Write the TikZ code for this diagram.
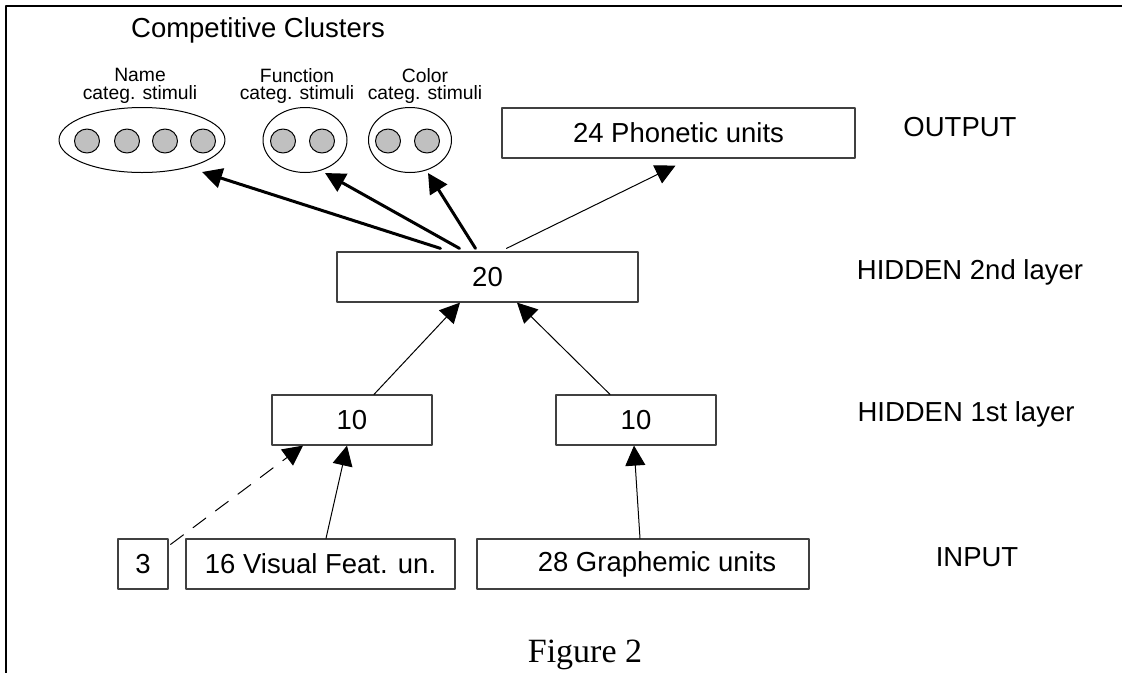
\documentclass[tikz,border=0pt]{standalone}
\usepackage{fontspec}
\setmainfont{Liberation Sans}
\newfontfamily\figfont{Liberation Serif}
\usetikzlibrary{arrows.meta}
\usetikzlibrary{shapes.geometric}
\definecolor{cellgray}{RGB}{192,192,192}
\begin{document}
\begin{tikzpicture}[line cap=round,line join=round,>={Triangle[length=20pt,width=20pt]},x=1pt,y=-1pt,
unitbox/.style={draw=black!75,line width=1.2pt,inner sep=0pt,minimum height=50pt,font=\fontsize{27.5}{32}\selectfont},
layername/.style={inner sep=0pt,font=\fontsize{27.5}{32}\selectfont},
clusterlabel/.style={align=center,inner sep=0pt,font=\fontsize{19.3}{17.5}\selectfont},
cluster/.style={draw,ellipse,line width=1pt,inner sep=0pt,minimum height=65pt},
cell/.style={draw,ellipse,fill=cellgray,line width=1pt,inner sep=0pt,minimum width=25pt,minimum height=24pt},
feed/.style={line width=1pt,->},
compete/.style={line width=3pt,->}]
\useasboundingbox (0,0) rectangle (1122,673);
\draw [line width=2.5pt,line cap=butt] (1122,6) -- (6,6) -- (6,673);
\node[layername] (title) at (258,30) {Competitive Clusters};
\node[clusterlabel] (namelab) at (140,86) {Name\\categ. stimuli};
\node[clusterlabel] (funclab) at (297,86) {Function\\categ. stimuli};
\node[clusterlabel] (colorlab) at (425,86) {Color\\categ. stimuli};
\node[cluster,minimum width=166pt] (nameclu) at (142,140) {};
\node[cluster,minimum width=84pt] (funcclu) at (305,140) {};
\node[cluster,minimum width=83pt] (colorclu) at (410,140) {};
\foreach \cx [count=\i] in {87,127,165,203}
  \node[cell] (namecell\i) at (\cx,141) {};
\foreach \cx [count=\i] in {283,322}
  \node[cell] (funccell\i) at (\cx,141) {};
\foreach \cx [count=\i] in {388,427}
  \node[cell] (colorcell\i) at (\cx,141) {};
\node[unitbox,minimum width=353pt] (phon) at (678.5,133) {24 Phonetic units};
\node[unitbox,minimum width=301pt] (hid2) at (487.5,277) {20};
\node[unitbox,minimum width=160pt] (hidA) at (352,420) {10};
\node[unitbox,minimum width=160pt] (hidB) at (636,420) {10};
\node[unitbox,minimum width=50pt] (inthree) at (143,564) {3};
\node[unitbox,minimum width=269pt] (invis) at (320.5,564) {16 Visual Feat. un.};
\node[unitbox,minimum width=332pt] (ingra) at (643,564) {\hspace*{28pt}28 Graphemic units};
\node[layername] (outlab) at (960,127) {OUTPUT};
\node[layername] (hid2lab) at (970,272) {HIDDEN 2nd layer};
\node[layername] (hid1lab) at (966,414) {HIDDEN 1st layer};
\node[layername] (inlab) at (977,557) {INPUT};
\node[inner sep=0pt,font=\figfont\fontsize{34}{40}\selectfont] (figlab) at (585,655) {Figure 2};
\coordinate (nametip) at (202,172);
\coordinate (functip) at (325,173);
\coordinate (colortip) at (428,173);
\draw [compete] ([xshift=-47pt,yshift=3pt]hid2.north) -- (nametip);
\draw [compete] ([xshift=-28pt,yshift=3pt]hid2.north) -- (functip);
\draw [compete] ([xshift=-12pt,yshift=3pt]hid2.north) -- (colortip);
\draw [feed] ([xshift=19pt,yshift=3pt]hid2.north) -- ([xshift=-3pt,yshift=-7pt]phon.south);
\draw [feed] ([xshift=22pt]hidA.north) -- ([xshift=-27.5pt]hid2.south);
\draw [feed] ([xshift=-26pt]hidB.north) -- ([xshift=29.5pt]hid2.south);
\draw [feed] ([xshift=5.5pt]invis.north) -- ([xshift=-5pt]hidA.south);
\draw [feed,dash pattern=on 16pt off 12pt] ([xshift=2pt,yshift=-6pt]inthree.north east) -- ([xshift=-49pt]hidA.south);
\draw [feed] ([xshift=-3pt]ingra.north) -- ([xshift=-2pt]hidB.south);
\end{tikzpicture}
\end{document}
